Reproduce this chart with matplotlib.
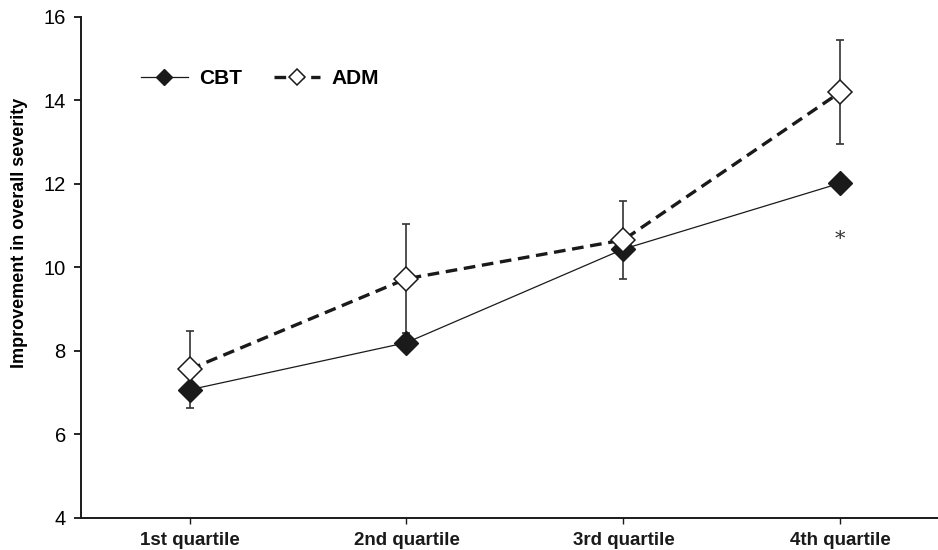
import matplotlib
matplotlib.use("Agg")
import matplotlib.pyplot as plt

# values
quartiles = ["1st quartile", "2nd quartile", "3rd quartile", "4th quartile"]
x_pos = [1, 2, 3, 4]
cbt_mean = [7.07, 8.20, 10.44, 12.02]
adm_mean = [7.56, 9.73, 10.66, 14.20]
adm_err = [0.93, 1.31, 0.93, 1.24]
star_y = 10.66

plt.rcParams['font.family'] = ['Liberation Sans', 'DejaVu Sans']

fig = plt.figure(figsize=(9.38, 5.5), dpi=100)
ax = fig.add_axes([0.0864, 0.0582, 0.9136, 0.911])

# error bars of ADM (drawn first so markers sit on top)
ax.errorbar(x_pos, adm_mean, yerr=adm_err, fmt='none', ecolor='#333333',
            elinewidth=1.2, capsize=3, capthick=1.2, zorder=2)

ax.plot(x_pos, cbt_mean, color='#1a1a1a', lw=0.9, marker='D', ms=12,
        mfc='#1a1a1a', mec='#1a1a1a', label='CBT', zorder=3)
ax.plot(x_pos, adm_mean, color='#1a1a1a', lw=2.4, ls=(0, (3.5, 2)),
        marker='D', ms=12, mfc='white', mec='#1a1a1a', mew=1.1,
        label='ADM', zorder=4)

ax.text(4, star_y, '*', ha='center', va='center', fontsize=15,
        color='#333333', family='DejaVu Serif')

ax.set_xlim(0.5, 4.45)
ax.set_ylim(4, 16)
ax.set_yticks([4, 6, 8, 10, 12, 14, 16])
ax.set_xticks(x_pos)
ax.set_xticklabels(quartiles, fontweight='bold', fontsize=13.5)
ax.set_ylabel('Improvement in overall severity', fontweight='bold',
              fontsize=13)
ax.yaxis.set_label_coords(-0.062, 0.569)

for s in ['top', 'right']:
    ax.spines[s].set_visible(False)
for s in ['left', 'bottom']:
    ax.spines[s].set_linewidth(1.4)
    ax.spines[s].set_color('#1a1a1a')
ax.tick_params(axis='y', labelsize=14.5, length=5, width=1.2, pad=6)
ax.tick_params(axis='x', length=4, width=1, pad=6, colors='#1a1a1a')

leg = ax.legend(loc='upper left', bbox_to_anchor=(0.048, 0.933), ncol=2,
                frameon=False, handlelength=2.25, columnspacing=1.5,
                handletextpad=0.55, markerscale=0.7,
                prop={'weight': 'bold', 'size': 15})

fig.savefig('out.png', dpi=100)
